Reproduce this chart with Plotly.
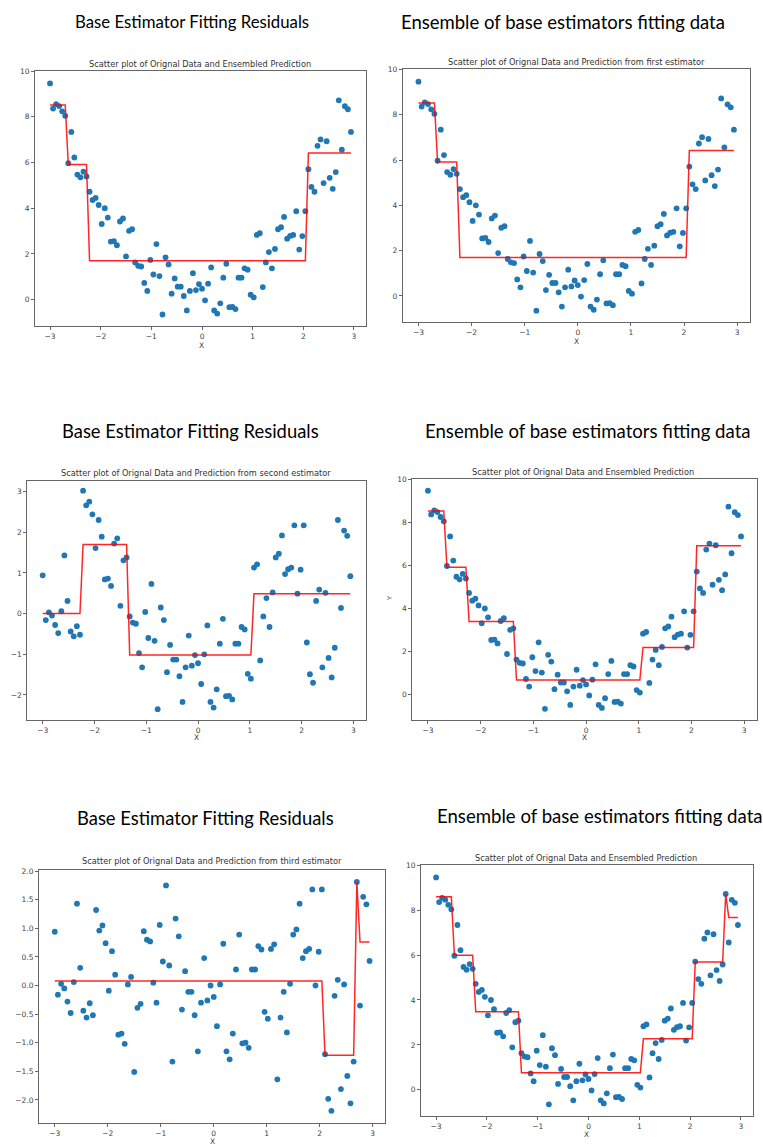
import plotly.graph_objects as go

W, H = 763, 1147

x_vals = [
    -3.00, -2.94, -2.88, -2.82, -2.76, -2.70, -2.64, -2.58, -2.52, -2.46,
    -2.40, -2.34, -2.28, -2.22, -2.16, -2.10, -2.04, -1.98, -1.92, -1.86,
    -1.80, -1.74, -1.68, -1.62, -1.56, -1.50, -1.44, -1.38, -1.32, -1.26,
    -1.20, -1.14, -1.08, -1.02, -0.96, -0.90, -0.84, -0.78, -0.72, -0.66,
    -0.60, -0.54, -0.48, -0.42, -0.36, -0.30, -0.24, -0.18, -0.12, -0.06,
    0.00, 0.06, 0.12, 0.18, 0.24, 0.30, 0.36, 0.42, 0.48, 0.54,
    0.60, 0.66, 0.72, 0.78, 0.84, 0.90, 0.96, 1.02, 1.08, 1.14,
    1.20, 1.26, 1.32, 1.38, 1.44, 1.50, 1.56, 1.62, 1.68, 1.74,
    1.80, 1.86, 1.92, 1.98, 2.04, 2.10, 2.16, 2.22, 2.28, 2.34,
    2.40, 2.46, 2.52, 2.58, 2.64, 2.70, 2.76, 2.82, 2.88, 2.94,
]

y_vals = [
    9.46, 8.36, 8.55, 8.47, 8.24, 8.04, 5.97, 7.34, 6.22, 5.47,
    5.35, 5.60, 5.39, 4.72, 4.36, 4.45, 4.14, 3.31, 4.00, 3.59,
    2.54, 2.56, 2.38, 3.42, 3.55, 1.89, 3.01, 3.08, 1.63, 1.48,
    1.45, 0.73, 0.38, 1.74, 1.10, 2.43, 1.03, -0.65, 1.85, 1.54,
    0.26, 0.93, 0.57, 0.57, 0.16, -0.47, 0.38, 1.16, 0.42, 0.68,
    0.48, -0.03, 0.70, 1.41, -0.47, -0.61, -0.16, 0.96, 1.57, -0.33,
    -0.32, -0.41, 0.96, 0.96, 1.37, 1.31, 0.22, 0.10, 2.83, 2.91,
    0.55, 1.63, 2.08, 1.37, 2.22, 3.08, 3.17, 3.62, 2.67, 2.79,
    2.83, 3.87, 2.19, 2.78, 3.87, 5.71, 4.93, 4.72, 6.73, 7.01,
    5.10, 6.93, 5.33, 4.85, 5.58, 8.72, 6.56, 8.46, 8.33, 7.34,
]

resid_1 = [
    0.94, -0.16, 0.03, -0.05, -0.28, -0.48, 0.06, 1.43, 0.31, -0.44,
    -0.56, -0.31, -0.52, 3.02, 2.66, 2.75, 2.44, 1.61, 2.30, 1.89,
    0.84, 0.86, 0.68, 1.72, 1.85, 0.19, 1.31, 1.38, -0.07, -0.22,
    -0.25, -0.97, -1.32, 0.04, -0.60, 0.73, -0.67, -2.35, 0.15, -0.16,
    -1.44, -0.77, -1.13, -1.13, -1.54, -2.17, -1.32, -0.54, -1.28, -1.02,
    -1.22, -1.73, -1.00, -0.29, -2.17, -2.31, -1.86, -0.74, -0.13, -2.03,
    -2.02, -2.11, -0.74, -0.74, -0.33, -0.39, -1.48, -1.60, 1.13, 1.21,
    -1.15, -0.07, 0.38, -0.33, 0.52, 1.38, 1.47, 1.92, 0.97, 1.09,
    1.13, 2.17, 0.49, 1.08, 2.17, -0.71, -1.49, -1.70, 0.31, 0.59,
    -1.32, 0.51, -1.09, -1.57, -0.84, 2.30, 0.14, 2.04, 1.91, 0.92,
]

resid_2 = [
    0.94, -0.16, 0.03, -0.05, -0.28, -0.48, 0.06, 1.43, 0.31, -0.44,
    -0.56, -0.31, -0.52, 1.32, 0.96, 1.05, 0.74, -0.09, 0.60, 0.19,
    -0.86, -0.84, -1.02, 0.02, 0.15, -1.51, -0.39, -0.32, 0.95, 0.80,
    0.77, 0.05, -0.30, 1.06, 0.42, 1.75, 0.35, -1.33, 1.17, 0.86,
    -0.42, 0.25, -0.11, -0.11, -0.52, -1.15, -0.30, 0.48, -0.26, 0.00,
    -0.20, -0.71, 0.02, 0.73, -1.15, -1.29, -0.84, 0.28, 0.89, -1.01,
    -1.00, -1.09, 0.28, 0.28, 0.69, 0.63, -0.46, -0.58, 0.64, 0.72,
    -1.64, -0.56, -0.11, -0.82, 0.03, 0.89, 0.98, 1.43, 0.48, 0.60,
    0.64, 1.68, 0.00, 0.59, 1.68, -1.20, -1.98, -2.19, -0.18, 0.10,
    -1.81, 0.02, -1.58, -2.06, -1.33, 1.81, -0.35, 1.55, 1.42, 0.43,
]

# prediction lines (vertices of the step curves)
pred1_x = [-3.00, -2.70, -2.64, -2.28, -2.22, 2.04, 2.10, 2.94]
pred1_y = [8.52, 8.52, 5.91, 5.91, 1.70, 1.70, 6.42, 6.42]
tree2_x = [-3.00, -2.28, -2.22, -1.38, -1.32, 1.02, 1.08, 2.94]
tree2_y = [0.00, 0.00, 1.70, 1.70, -1.02, -1.02, 0.49, 0.49]
ens2_x = [-3.00, -2.70, -2.64, -2.28, -2.22, -1.38, -1.32, 1.02, 1.08, 2.04, 2.10, 2.94]
ens2_y = [8.52, 8.52, 5.91, 5.91, 3.40, 3.40, 0.68, 0.68, 2.19, 2.19, 6.91, 6.91]
tree3_x = [-3.00, 2.04, 2.10, 2.64, 2.70, 2.76, 2.94]
tree3_y = [0.08, 0.08, -1.22, -1.22, 1.81, 0.76, 0.76]
ens3_x = [-3.00, -2.70, -2.64, -2.28, -2.22, -1.38, -1.32, 1.02, 1.08, 2.04, 2.10, 2.64, 2.70, 2.76, 2.94]
ens3_y = [8.60, 8.60, 5.99, 5.99, 3.48, 3.48, 0.76, 0.76, 2.27, 2.27, 5.69, 5.69, 8.72, 7.67, 7.67]

x_ticks = [-3, -2, -1, 0, 1, 2, 3]
y_ticks_data = [0, 2, 4, 6, 8, 10]
y_ticks_r1 = [-2, -1, 0, 1, 2, 3]
y_ticks_r2 = [-2.0, -1.5, -1.0, -0.5, 0.0, 0.5, 1.0, 1.5, 2.0]

heading_left = "Base Estimator Fitting Residuals"
heading_right = "Ensemble of base estimators fitting data"
title_ens = "Scatter plot of Orignal Data and Ensembled Prediction"
title_first = "Scatter plot of Orignal Data and Prediction from first estimator"
title_second = "Scatter plot of Orignal Data and Prediction from second estimator"
title_third = "Scatter plot of Orignal Data and Prediction from third estimator"

def fmt(v, dec):
    s = f"{v:.{dec}f}" if dec else f"{v:g}"
    return s.replace("-", "\u2212")

panels = [
    dict(box=(35, 366, 67.3, 323.3), yr=(-1.16, 10.0), yt=y_ticks_data, dec=0,
         sy=y_vals, lx=pred1_x, ly=pred1_y, title=title_ens, tpos=(200, 60),
         xl=(201, 343), head=heading_left, hpos=(192, 18), hs=16.8),
    dict(box=(402.7, 749.7, 65.7, 319.3), yr=(-1.16, 10.0), yt=y_ticks_data, dec=0,
         sy=y_vals, lx=pred1_x, ly=pred1_y, title=title_first, tpos=(576, 58),
         xl=(576, 338.5), head=heading_right, hpos=(563, 18), hs=18.5),
    dict(box=(27.3, 365.7, 479, 718.3), yr=(-2.61, 3.25), yt=y_ticks_r1, dec=0,
         sy=resid_1, lx=tree2_x, ly=tree2_y, title=title_second, tpos=(196, 471),
         xl=(196, 736.5), head=heading_left, hpos=(190, 428), hs=18.4),
    dict(box=(412.3, 756.7, 476.7, 718.3), yr=(-1.16, 10.0), yt=y_ticks_data, dec=0,
         sy=y_vals, lx=ens2_x, ly=ens2_y, title=title_ens, tpos=(583, 469.5),
         xl=(584, 736.5), head=heading_right, hpos=(588, 428), hs=18.6),
    dict(box=(39, 385.3, 869, 1123.3), yr=(-2.41, 2.02), yt=y_ticks_r2, dec=1,
         sy=resid_2, lx=tree3_x, ly=tree3_y, title=title_third, tpos=(211.7, 860.5),
         xl=(212.5, 1141), head=heading_left, hpos=(205, 817), hs=18.4),
    dict(box=(421, 753, 864.3, 1115.7), yr=(-1.16, 10.0), yt=y_ticks_data, dec=0,
         sy=y_vals, lx=ens3_x, ly=ens3_y, title=title_ens, tpos=(586, 856.5),
         xl=(586.5, 1134.5), head=heading_right, hpos=(600, 815), hs=18.6),
]

fig = go.Figure()
layout = dict(
    width=W, height=H, margin=dict(l=0, r=0, t=0, b=0),
    paper_bgcolor="white", plot_bgcolor="white", showlegend=False,
    annotations=[],
)

tick_font = dict(family="DejaVu Sans", size=7.5, color="#444")
axis_common = dict(showgrid=False, zeroline=False, showline=True, mirror=True,
                   linecolor="#666", linewidth=1, ticks="outside", ticklen=3,
                   tickcolor="#666", tickwidth=1, tickfont=tick_font)

for k, p in enumerate(panels, start=1):
    l, r, t, b = p["box"]
    xa = "x" if k == 1 else f"x{k}"
    ya = "y" if k == 1 else f"y{k}"
    layout[f"xaxis{'' if k == 1 else k}"] = dict(
        domain=[l / W, r / W], anchor=ya, range=[-3.297, 3.237],
        tickvals=x_ticks, ticktext=[fmt(v, 0) for v in x_ticks], **axis_common)
    layout[f"yaxis{'' if k == 1 else k}"] = dict(
        domain=[1 - b / H, 1 - t / H], anchor=xa, range=list(p["yr"]),
        tickvals=p["yt"], ticktext=[fmt(v, p["dec"]) for v in p["yt"]], **axis_common)
    fig.add_trace(go.Scatter(x=x_vals, y=p["sy"], mode="markers", xaxis=xa, yaxis=ya,
                             marker=dict(color="#1f77b4", size=5.8, line=dict(width=0))))
    fig.add_trace(go.Scatter(x=p["lx"], y=p["ly"], mode="lines", xaxis=xa, yaxis=ya,
                             line=dict(color="rgba(255,0,0,0.85)", width=1.5)))
    tx, ty = p["tpos"]
    layout["annotations"].append(dict(
        text=p["title"], x=tx / W, y=1 - ty / H, xref="paper", yref="paper",
        xanchor="center", yanchor="middle", showarrow=False,
        font=dict(family="DejaVu Sans", size=8.2, color="#333")))
    lx, ly = p["xl"]
    layout["annotations"].append(dict(
        text="X", x=lx / W, y=1 - ly / H, xref="paper", yref="paper",
        xanchor="center", yanchor="middle", showarrow=False,
        font=dict(family="DejaVu Sans", size=7.5, color="#444")))
    hx, hy = p["hpos"]
    layout["annotations"].append(dict(
        text=p["head"], x=hx / W, y=1 - hy / H, xref="paper", yref="paper",
        xanchor="center", yanchor="middle", showarrow=False,
        font=dict(family="Lato", size=p["hs"], color="#000")))

# y label of the middle-right panel
layout["annotations"].append(dict(
    text="Y", x=390 / W, y=1 - 597 / H, xref="paper", yref="paper",
    xanchor="center", yanchor="middle", showarrow=False, textangle=-90,
    font=dict(family="DejaVu Sans", size=6.5, color="#444")))

fig.update_layout(**layout)
fig.write_html("out.html")
